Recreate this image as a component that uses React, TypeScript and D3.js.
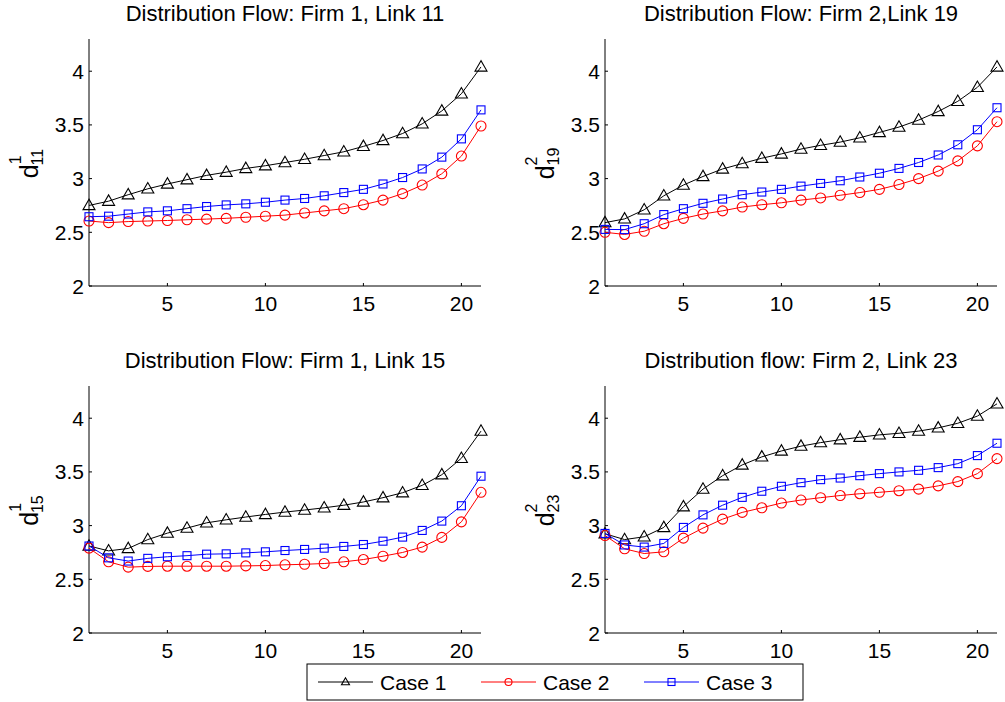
import React from "react";
import * as d3 from "d3";

const steps = d3.range(1, 22);

// Panel 1: Firm 1, Link 11
const p1Case1 = [2.75, 2.79, 2.85, 2.905, 2.95, 2.99, 3.03, 3.06, 3.095, 3.12, 3.15, 3.18, 3.215, 3.25, 3.3, 3.355, 3.42, 3.51, 3.63, 3.79, 4.04];
const p1Case2 = [2.605, 2.59, 2.6, 2.605, 2.61, 2.617, 2.623, 2.63, 2.64, 2.65, 2.66, 2.68, 2.7, 2.72, 2.757, 2.8, 2.86, 2.94, 3.045, 3.21, 3.49];
const p1Case3 = [2.645, 2.65, 2.67, 2.69, 2.7, 2.72, 2.74, 2.755, 2.765, 2.78, 2.8, 2.815, 2.84, 2.87, 2.9, 2.95, 3.01, 3.09, 3.2, 3.37, 3.64];

// Panel 2: Firm 2, Link 19
const p2Case1 = [2.59, 2.625, 2.71, 2.84, 2.94, 3.02, 3.09, 3.14, 3.19, 3.23, 3.275, 3.31, 3.34, 3.38, 3.43, 3.48, 3.545, 3.625, 3.72, 3.85, 4.04];
const p2Case2 = [2.5, 2.48, 2.51, 2.58, 2.63, 2.67, 2.7, 2.735, 2.757, 2.775, 2.8, 2.82, 2.845, 2.87, 2.9, 2.945, 3.0, 3.07, 3.165, 3.305, 3.53];
const p2Case3 = [2.527, 2.525, 2.58, 2.665, 2.72, 2.77, 2.81, 2.85, 2.875, 2.9, 2.93, 2.955, 2.98, 3.015, 3.05, 3.095, 3.15, 3.22, 3.315, 3.455, 3.66];

// Panel 3: Firm 1, Link 15
const p3Case1 = [2.81, 2.765, 2.787, 2.87, 2.93, 2.977, 3.026, 3.054, 3.08, 3.104, 3.126, 3.145, 3.166, 3.19, 3.22, 3.26, 3.306, 3.375, 3.474, 3.627, 3.88];
const p3Case2 = [2.79, 2.663, 2.613, 2.62, 2.622, 2.622, 2.622, 2.622, 2.625, 2.628, 2.635, 2.64, 2.647, 2.663, 2.684, 2.715, 2.75, 2.8, 2.89, 3.035, 3.31];
const p3Case3 = [2.81, 2.7, 2.67, 2.695, 2.71, 2.72, 2.734, 2.737, 2.746, 2.756, 2.768, 2.778, 2.79, 2.806, 2.824, 2.855, 2.893, 2.955, 3.042, 3.185, 3.46];

// Panel 4: Firm 2, Link 23
const p4Case1 = [2.924, 2.87, 2.896, 2.983, 3.176, 3.34, 3.465, 3.565, 3.64, 3.695, 3.74, 3.773, 3.8, 3.823, 3.845, 3.86, 3.88, 3.91, 3.953, 4.02, 4.134];
const p4Case2 = [2.908, 2.784, 2.74, 2.756, 2.883, 2.977, 3.06, 3.123, 3.166, 3.21, 3.238, 3.26, 3.28, 3.297, 3.31, 3.325, 3.34, 3.37, 3.41, 3.484, 3.624];
const p4Case3 = [2.927, 2.82, 2.8, 2.834, 2.983, 3.1, 3.19, 3.263, 3.32, 3.366, 3.4, 3.428, 3.443, 3.465, 3.484, 3.5, 3.515, 3.54, 3.577, 3.652, 3.767];

const xTicks = [5, 10, 15, 20];
const yTicks = [2, 2.5, 3, 3.5, 4];
const yTickLabels = ["2", "2.5", "3", "3.5", "4"];

const titles = [
  "Distribution Flow: Firm 1, Link 11",
  "Distribution Flow: Firm 2,Link 19",
  "Distribution Flow: Firm 1, Link 15",
  "Distribution flow: Firm 2, Link 23",
];
const ySup = ["1", "2", "1", "2"];
const ySub = ["11", "19", "15", "23"];

const caseNames = ["Case 1", "Case 2", "Case 3"];
const caseColors = ["#000000", "#ff0000", "#0000ff"];
const caseMarkers = ["triangle", "circle", "square"];

const panelData = [
  [p1Case1, p1Case2, p1Case3],
  [p2Case1, p2Case2, p2Case3],
  [p3Case1, p3Case2, p3Case3],
  [p4Case1, p4Case2, p4Case3],
];

const FONT = "'Liberation Sans', Arial, Helvetica, sans-serif";

const panelBoxes = [
  { x0: 89, x1: 481, y0: 39, y1: 286 },
  { x0: 605, x1: 997, y0: 39, y1: 286 },
  { x0: 89, x1: 481, y0: 386, y1: 633 },
  { x0: 605, x1: 997, y0: 386, y1: 633 },
];

function Marker({ type, x, y, color, size }: { type: string; x: number; y: number; color: string; size: number }) {
  if (type === "triangle") {
    const h = size * 0.87;
    const pts = `${x},${y - h * 0.6} ${x - size / 2},${y + h * 0.4} ${x + size / 2},${y + h * 0.4}`;
    return <polygon points={pts} fill="none" stroke={color} strokeWidth={1.1} />;
  }
  if (type === "circle") {
    return <circle cx={x} cy={y} r={size / 2} fill="none" stroke={color} strokeWidth={1.1} />;
  }
  return <rect x={x - size / 2} y={y - size / 2} width={size} height={size} fill="none" stroke={color} strokeWidth={1.1} />;
}

function Panel({ idx }: { idx: number }) {
  const b = panelBoxes[idx];
  const x = d3.scaleLinear().domain([1, 21]).range([b.x0, b.x1]);
  const y = d3.scaleLinear().domain([2, 4.3]).range([b.y1, b.y0]);
  const line = d3
    .line<number>()
    .x((_, i) => x(steps[i]))
    .y((d) => y(d));
  const markerSizes = [12, 10, 8];
  const cx = (b.x0 + b.x1) / 2;
  const cy = (b.y0 + b.y1) / 2 + 1;
  return (
    <g>
      <text x={cx} y={b.y0 - 18} textAnchor="middle" fontSize={22} fontFamily={FONT} fill="#000">
        {titles[idx]}
      </text>
      {/* axes */}
      <line x1={b.x0} x2={b.x0} y1={b.y0} y2={b.y1} stroke="#000" strokeWidth={1} />
      <line x1={b.x0} x2={b.x1} y1={b.y1} y2={b.y1} stroke="#000" strokeWidth={1} />
      {xTicks.map((t) => (
        <g key={"x" + t}>
          <line x1={x(t)} x2={x(t)} y1={b.y1} y2={b.y1 - 3} stroke="#000" />
          <text x={x(t)} y={b.y1 + 25} textAnchor="middle" fontSize={21} fontFamily={FONT}>
            {t}
          </text>
        </g>
      ))}
      {yTicks.map((t, i) => (
        <g key={"y" + t}>
          <line x1={b.x0} x2={b.x0 + 3} y1={y(t)} y2={y(t)} stroke="#000" />
          <text x={b.x0 - 5} y={y(t) + 7.5} textAnchor="end" fontSize={21} fontFamily={FONT}>
            {yTickLabels[i]}
          </text>
        </g>
      ))}
      {/* y label */}
      <text
        transform={`translate(${b.x0 - 51},${cy}) rotate(-90)`}
        textAnchor="middle"
        fontSize={25}
        fontFamily={FONT}
      >
        <tspan>d</tspan>
        <tspan dy={-17} fontSize={16}>{ySup[idx]}</tspan>
        <tspan dx={-8.9} dy={22} fontSize={16}>{ySub[idx]}</tspan>
      </text>
      {panelData[idx].map((series, s) => (
        <g key={s}>
          <path d={line(series) || ""} fill="none" stroke={caseColors[s]} strokeWidth={1} />
          {series.map((v, i) => (
            <Marker key={i} type={caseMarkers[s]} x={x(steps[i])} y={y(v)} color={caseColors[s]} size={markerSizes[s]} />
          ))}
        </g>
      ))}
    </g>
  );
}

export default function App() {
  const legend = { x0: 307, x1: 803, y0: 664, y1: 700 };
  const entryX = [318, 481, 644];
  return (
    <svg
      width={1005}
      height={702}
      style={{ position: "absolute", left: 0, top: 0, background: "#fff" }}
      fontFamily={FONT}
    >
      <rect x={0} y={0} width={1005} height={702} fill="#fff" />
      {[0, 1, 2, 3].map((i) => (
        <Panel key={i} idx={i} />
      ))}
      <g>
        <rect
          x={legend.x0}
          y={legend.y0}
          width={legend.x1 - legend.x0}
          height={legend.y1 - legend.y0}
          fill="#fff"
          stroke="#000"
          strokeWidth={1}
        />
        {caseNames.map((name, i) => {
          const lx = entryX[i];
          const ly = (legend.y0 + legend.y1) / 2;
          return (
            <g key={name}>
              <line x1={lx} x2={lx + 55} y1={ly} y2={ly} stroke={caseColors[i]} strokeWidth={1} />
              <Marker type={caseMarkers[i]} x={lx + 27.5} y={ly} color={caseColors[i]} size={i === 0 ? 8 : 7} />
              <text x={lx + 62} y={ly + 8} fontSize={21} fontFamily={FONT}>
                {name}
              </text>
            </g>
          );
        })}
      </g>
    </svg>
  );
}
